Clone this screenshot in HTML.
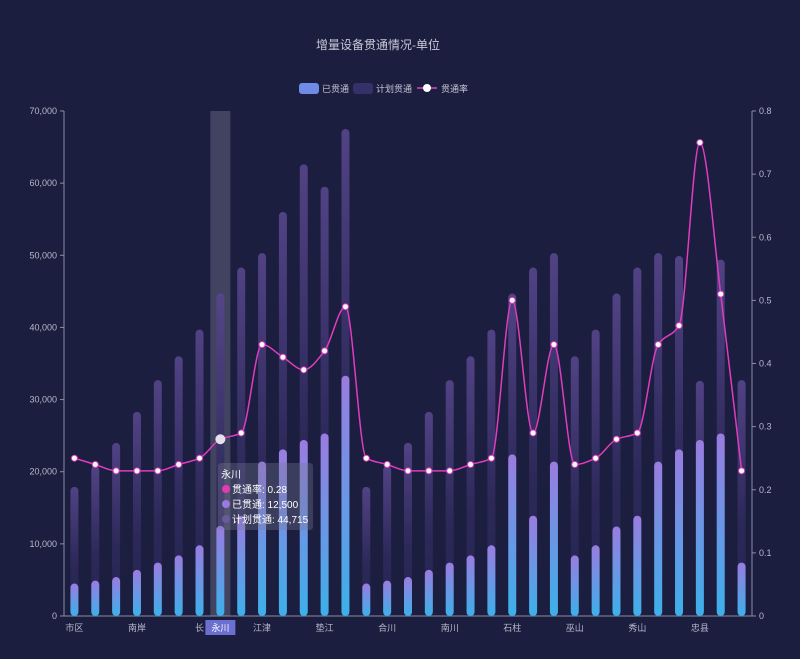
<!DOCTYPE html>
<html><head><meta charset="utf-8"><style>
body{margin:0;background:#1b1e3e;}
svg{display:block;font-family:"Liberation Sans","Noto Sans CJK SC",sans-serif;}
</style></head><body>
<svg id="c" width="800" height="659" viewBox="0 0 800 659" xmlns="http://www.w3.org/2000/svg">
<defs>
<linearGradient id="gd" x1="0" y1="0" x2="0" y2="1"><stop offset="0" stop-color="#9a7ce0"/><stop offset="1" stop-color="#3cb0ea"/></linearGradient>
<linearGradient id="gp" x1="0" y1="0" x2="0" y2="1"><stop offset="0" stop-color="#57468c"/><stop offset="0.6" stop-color="#2e2a5c"/><stop offset="1" stop-color="#232452"/></linearGradient>
</defs>
<rect width="800" height="659" fill="#1b1e3e"/>
<text x="378" y="49" fill="#c8c8d8" font-size="12" text-anchor="middle">增量设备贯通情况-单位</text>
<rect x="299" y="83" width="20" height="11" rx="3" fill="#6e8be6"/>
<text x="322" y="92" fill="#c8c8d8" font-size="9">已贯通</text>
<rect x="353" y="83" width="20" height="11" rx="3" fill="#34306a"/>
<text x="376" y="92" fill="#c8c8d8" font-size="9">计划贯通</text>
<line x1="417" y1="88" x2="437" y2="88" stroke="#e040c0" stroke-width="1.5"/>
<circle cx="427" cy="88" r="4" fill="#fff"/>
<text x="441" y="92" fill="#c8c8d8" font-size="9">贯通率</text>
<g id="g"></g>
</svg>
<script>
const done=[4500,4900,5400,6400,7400,8400,9800,12500,13900,21400,23100,24400,25300,33300,4500,4900,5400,6400,7400,8400,9800,22400,13900,21400,8400,9800,12400,13900,21400,23100,24400,25300,7400];
const plan=[17900,20800,24000,28300,32700,36000,39700,44715,48300,50300,56000,62600,59500,67500,17900,20800,24000,28300,32700,36000,39700,44700,48300,50300,36000,39700,44700,48300,50300,49900,32600,49400,32700];
const rate=[0.25,0.24,0.23,0.23,0.23,0.24,0.25,0.28,0.29,0.43,0.41,0.39,0.42,0.49,0.25,0.24,0.23,0.23,0.23,0.24,0.25,0.50,0.29,0.43,0.24,0.25,0.28,0.29,0.43,0.46,0.75,0.51,0.23];
const names={0:"市区",3:"南岸",6:"长",9:"江津",12:"垫江",15:"合川",18:"南川",21:"石柱",24:"巫山",27:"秀山",30:"忠县"};
const L=64,R=752,T=111,B=616,n=33,w=(R-L)/n;
const X=i=>L+w*(i+0.5), Y=v=>B-v/70000*(B-T), Y2=r=>B-r/0.8*(B-T);
let s='';
s+=`<rect x="${X(7)-10}" y="${T}" width="20" height="${B-T}" fill="rgba(200,200,220,0.22)"/>`;
for(let k=0;k<=7;k++){const y=Y(k*10000);
 s+=`<line x1="${L-4}" y1="${y}" x2="${L}" y2="${y}" stroke="#8a8ca8"/>`;
 s+=`<text x="${L-7}" y="${y+3}" fill="#b8b8cc" font-size="9" text-anchor="end">${k?(k*10).toLocaleString('en')+',000':0}</text>`;}
for(let k=0;k<=8;k++){const r=k/10,y2=Y2(r);
 s+=`<line x1="${R}" y1="${y2}" x2="${R+4}" y2="${y2}" stroke="#8a8ca8"/>`;
 s+=`<text x="${R+7}" y="${y2+3}" fill="#b8b8cc" font-size="9">${k?r.toFixed(1):0}</text>`;}
s+=`<line x1="${L}" y1="${T}" x2="${L}" y2="${B}" stroke="#8a8ca8"/><line x1="${R}" y1="${T}" x2="${R}" y2="${B}" stroke="#8a8ca8"/><line x1="${L}" y1="${B}" x2="${R}" y2="${B}" stroke="#8a8ca8"/>`;
for(let i=0;i<n;i++){const x=X(i)-4;
 s+=`<rect x="${x}" y="${Y(plan[i])}" width="8" height="${B-Y(plan[i])}" rx="4" fill="url(#gp)" opacity="0.9"/>`;
 s+=`<rect x="${x}" y="${Y(done[i])}" width="8" height="${B-Y(done[i])}" rx="4" fill="url(#gd)"/>`;
 if(names[i]) s+=`<text x="${X(i)}" y="631" fill="#b8b8cc" font-size="9" text-anchor="middle">${names[i]}</text>`;}
s+=`<rect x="${X(7)-15}" y="620" width="30" height="15" fill="#6b6fd0"/><text x="${X(7)}" y="631" fill="#fff" font-size="9" text-anchor="middle">永川</text>`;
const P=rate.map((r,i)=>[X(i),Y2(r)]);
// monotone cubic
const m=[];const dl=[];
for(let i=0;i<n-1;i++)dl.push((P[i+1][1]-P[i][1])/w);
for(let i=0;i<n;i++){
 if(i==0)m.push(dl[0]);else if(i==n-1)m.push(dl[n-2]);
 else{const a=dl[i-1],b=dl[i];m.push(a*b<=0?0:2/(1/a+1/b));}}
let d=`M${P[0][0]},${P[0][1]}`;
for(let i=0;i<n-1;i++){const h=w/3;
 d+=` C${P[i][0]+h},${P[i][1]+m[i]*h},${P[i+1][0]-h},${P[i+1][1]-m[i+1]*h},${P[i+1][0]},${P[i+1][1]}`;}
s+=`<path d="${d}" fill="none" stroke="#e03cc0" stroke-width="1.5"/>`;
P.forEach((p,i)=>{s+=`<circle cx="${p[0]}" cy="${p[1]}" r="${i==7?5:3}" fill="${i==7?'#e6e0ea':'#fff'}" stroke="#e03cc0" stroke-width="${i==7?0:1}"/>`;});
s+=`<rect x="218" y="463" width="95" height="67" rx="3" fill="rgba(120,120,150,0.35)"/>`;
s+=`<text x="221" y="478" fill="#fff" font-size="10">永川</text>`;
const tt=[["#e23cb4","贯通率: 0.28"],["#9a7ae0","已贯通: 12,500"],["#6a5a9e","计划贯通: 44,715"]];
tt.forEach((e,k)=>{s+=`<circle cx="226" cy="${489+k*15}" r="4" fill="${e[0]}"/><text x="232" y="${493+k*15}" fill="#fff" font-size="10">${e[1]}</text>`;});
document.getElementById('g').innerHTML=s;
</script>
</body></html>
